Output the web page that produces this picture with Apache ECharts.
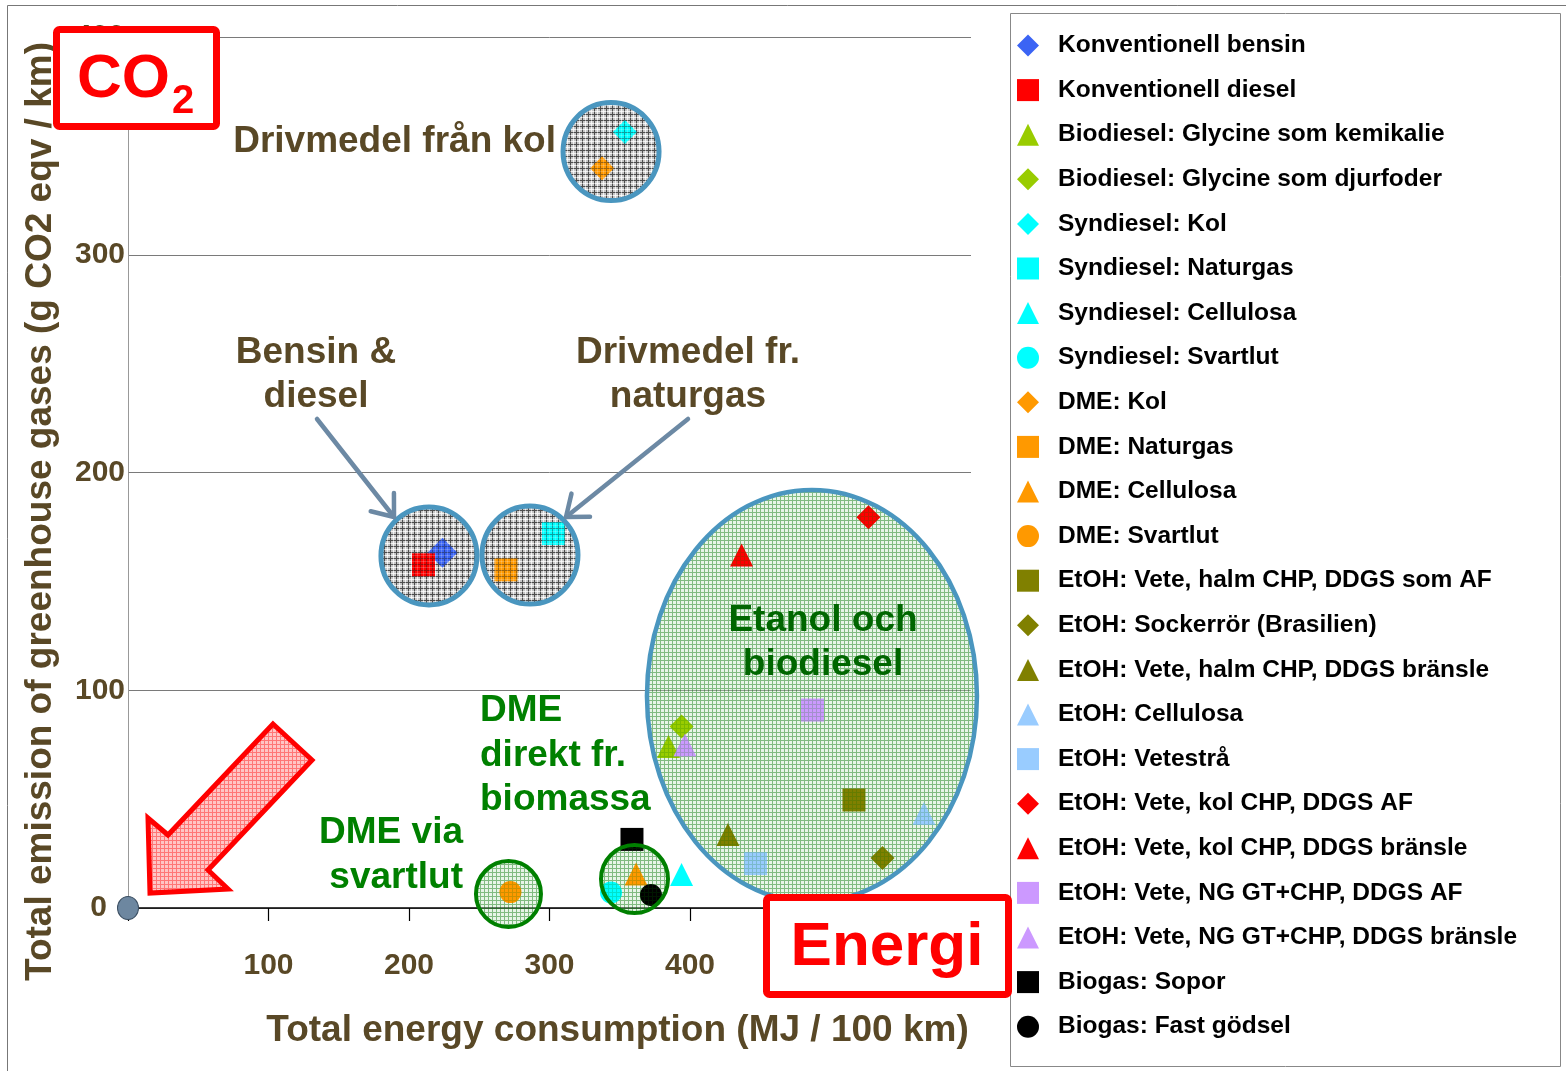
<!DOCTYPE html>
<html><head><meta charset="utf-8">
<script src="https://cdn.jsdelivr.net/npm/echarts@6/dist/echarts.min.js"></script>
<style>html,body{margin:0;padding:0;background:#fff}#c{width:1566px;height:1071px}</style>
</head><body><div id="c"></div>
<script>
// ---------- DATA ----------
const seriesNames = [
  'Konventionell bensin','Konventionell diesel','Biodiesel: Glycine som kemikalie','Biodiesel: Glycine som djurfoder',
  'Syndiesel: Kol','Syndiesel: Naturgas','Syndiesel: Cellulosa','Syndiesel: Svartlut',
  'DME: Kol','DME: Naturgas','DME: Cellulosa','DME: Svartlut',
  'EtOH: Vete, halm CHP, DDGS som AF','EtOH: Sockerrör (Brasilien)','EtOH: Vete, halm CHP, DDGS bränsle',
  'EtOH: Cellulosa','EtOH: Vetestrå','EtOH: Vete, kol CHP, DDGS AF','EtOH: Vete, kol CHP, DDGS bränsle',
  'EtOH: Vete, NG GT+CHP, DDGS AF','EtOH: Vete, NG GT+CHP, DDGS bränsle','Biogas: Sopor','Biogas: Fast gödsel'
];
const energyMJ = [223.8, 210.3, 384.7, 394.0, 353.7, 302.8, 394.0, 343.8, 337.4, 269.0, 361.6, 272.2,
                  516.7, 537.0, 427.0, 566.5, 446.6, 527.0, 436.7, 487.2, 396.4, 358.7, 372.2];
const emissionCO2 = [163.1, 157.6, 74.2, 83.4, 356.4, 172.0, 15.4, 7.1, 339.7, 155.3, 15.6, 7.3,
                     49.6, 23.0, 33.8, 43.4, 20.4, 179.4, 162.1, 90.9, 74.9, 31.5, 6.0];
const xTickValues = [0, 100, 200, 300, 400, 500, 600];
const yTickValues = [0, 100, 200, 300, 400];

// ---------- STYLE ----------
const symbols = ['diamond','rect','triangle','diamond','diamond','rect','triangle','circle','diamond','rect','triangle','circle',
                 'rect','diamond','triangle','triangle','rect','diamond','triangle','rect','triangle','rect','circle'];
const colors = ['#3B64F4','#FF0000','#99CC00','#99CC00','#00FFFF','#00FFFF','#00FFFF','#00FFFF','#FF9900','#FF9900','#FF9900','#FF9900',
                '#808000','#808000','#808000','#99CCFF','#99CCFF','#FF0000','#FF0000','#CC99FF','#CC99FF','#000000','#000000'];
const sizeOf = {diamond: 24, rect: 23, triangle: 23, circle: 22};
const brown = '#594826';
const FF = '"Liberation Sans", Arial, sans-serif';

const chart = echarts.init(document.getElementById('c'), null, {renderer: 'canvas'});

const series = seriesNames.map((n, i) => ({
  type: 'scatter', name: n,
  data: [[energyMJ[i], emissionCO2[i]]],
  symbol: symbols[i],
  symbolSize: i === 0 ? 30 : sizeOf[symbols[i]],
  itemStyle: {color: colors[i], opacity: 1},
  emphasis: {disabled: true},
  z: 3
}));
series.push({
  type: 'scatter', name: 'origin', data: [[0, 0]], symbol: 'circle', symbolSize: [21, 23],
  itemStyle: {color: '#6D87A0', borderColor: '#3A4D60', borderWidth: 1, opacity: 1},
  emphasis: {disabled: true}, z: 4, silent: true
});

chart.setOption({
  animation: false,
  backgroundColor: '#fff',
  grid: {left: 128, top: 37, right: 595, bottom: 163, containLabel: false},
  xAxis: {
    type: 'value', min: xTickValues[0], max: xTickValues[xTickValues.length - 1],
    interval: xTickValues[1] - xTickValues[0],
    name: 'Total energy consumption (MJ / 100 km)', nameLocation: 'middle', nameGap: 104,
    nameTextStyle: {fontFamily: FF, fontWeight: 'bold', fontSize: 37, color: brown, padding: [0, 0, 0, 136]},
    axisLine: {show: true, lineStyle: {color: '#000', width: 1.5}},
    axisTick: {show: true, length: 13, inside: false, lineStyle: {color: '#000', width: 1.2}},
    axisLabel: {fontFamily: FF, fontWeight: 'bold', fontSize: 30, color: brown, margin: 43,
      formatter: v => v === 0 ? '' : String(v)},
    splitLine: {show: false}
  },
  yAxis: {
    type: 'value', min: yTickValues[0], max: yTickValues[yTickValues.length - 1],
    interval: yTickValues[1] - yTickValues[0],
    name: 'Total emission of greenhouse gases (g CO2 eqv / km)', nameLocation: 'middle', nameGap: 69,
    nameTextStyle: {fontFamily: FF, fontWeight: 'bold', fontSize: 37, color: brown, padding: [0, 78, 0, 0]},
    axisLine: {show: true, lineStyle: {color: '#999', width: 1}},
    axisTick: {show: false},
    axisLabel: {fontFamily: FF, fontWeight: 'bold', fontSize: 30, color: brown, margin: 3,
      formatter: v => v === 0 ? '{z|0}' : String(v),
      rich: {z: {fontFamily: FF, fontWeight: 'bold', fontSize: 30, color: brown, padding: [0, 18, 0, 0]}}},
    splitLine: {show: true, lineStyle: {color: '#7a7a7a', width: 1}}
  },
  legend: {
    orient: 'vertical', left: 1017, top: 33, padding: 0, itemGap: 19.6, itemWidth: 22, itemHeight: 22,
    selectedMode: false,
    textStyle: {fontFamily: FF, fontWeight: 'bold', fontSize: 24.5, color: '#000', lineHeight: 24, padding: [0, 0, 0, 14]},
    data: seriesNames.map((n, i) => ({name: n, icon: symbols[i]}))
  },
  series: series
});

// ---------- ANNOTATIONS ----------
function pattern(size, bg, dark, light) {
  const c = document.createElement('canvas'); c.width = size; c.height = size;
  const g = c.getContext('2d');
  if (bg) { g.fillStyle = bg; g.fillRect(0, 0, size, size); }
  g.fillStyle = dark; g.fillRect(0, 0, size, 1); g.fillRect(0, 1, 1, size - 1);
  if (light) { const h = Math.floor(size / 2); g.fillStyle = light; g.fillRect(0, h, size, 1); g.fillRect(h, 0, 1, size); }
  return {image: c, repeat: 'repeat'};
}
const greyBase = pattern(6, 'rgba(160,160,160,0.6)', 'rgba(30,30,30,0.5)', 'rgba(255,255,255,0.75)');
const greyMesh = pattern(6, null, 'rgba(20,20,20,0.4)', 'rgba(255,255,255,0.2)');
const greenBase = pattern(4, 'rgba(190,225,190,0.35)', 'rgba(0,120,0,0.3)', null);
const greenMesh = pattern(4, null, 'rgba(0,110,0,0.2)', null);
const redPat = pattern(4, 'rgba(255,150,150,0.55)', 'rgba(255,0,0,0.4)', null);

const cp = (x, y) => chart.convertToPixel({gridIndex: 0}, [x, y]);
const ringBlue = '#4A96BF';
const clusters = [
  {c: [214.2, 161.7], rx: 48, ry: 49, base: greyBase, mesh: greyMesh, stroke: ringBlue, lw: 5},
  {c: [286.1, 162.1], rx: 48, ry: 49, base: greyBase, mesh: greyMesh, stroke: ringBlue, lw: 5},
  {c: [343.8, 347.4], rx: 48, ry: 49, base: greyBase, mesh: greyMesh, stroke: ringBlue, lw: 5},
  {c: [486.8, 97.4], rx: 165, ry: 206, base: greenBase, mesh: greenMesh, stroke: ringBlue, lw: 4.5},
  {c: [270.8, 6.4], rx: 32.5, ry: 33, base: greenBase, mesh: greenMesh, stroke: '#008000', lw: 4},
  {c: [360.5, 13.3], rx: 33.5, ry: 34, base: greenBase, mesh: greenMesh, stroke: '#008000', lw: 4}
];
const g = [];
g.push({type: 'rect', z: 50, silent: true, shape: {x: 7.5, y: 5.5, width: 1600, height: 1100},
  style: {fill: 'none', stroke: '#777', lineWidth: 1}});
g.push({type: 'rect', z: 50, silent: true, shape: {x: 1010.5, y: 13.5, width: 550, height: 1053},
  style: {fill: 'none', stroke: '#888', lineWidth: 1}});
clusters.forEach(k => {
  const p = cp(k.c[0], k.c[1]);
  g.push({type: 'ellipse', z: 1, silent: true, shape: {cx: p[0], cy: p[1], rx: k.rx, ry: k.ry},
    style: {fill: k.base, stroke: 'none'}});
  g.push({type: 'ellipse', z: 60, silent: true, shape: {cx: p[0], cy: p[1], rx: k.rx, ry: k.ry},
    style: {fill: k.mesh, stroke: k.stroke, lineWidth: k.lw}});
});
function arrow(x1, y1, x2, y2) {
  const dx = x2 - x1, dy = y2 - y1, L = Math.hypot(dx, dy), ux = dx / L, uy = dy / L;
  const a = 38 * Math.PI / 180, h = 24;
  const w1 = [x2 - h * (ux * Math.cos(a) - uy * Math.sin(a)), y2 - h * (uy * Math.cos(a) + ux * Math.sin(a))];
  const w2 = [x2 - h * (ux * Math.cos(a) + uy * Math.sin(a)), y2 - h * (uy * Math.cos(a) - ux * Math.sin(a))];
  g.push({type: 'line', z: 70, silent: true, shape: {x1, y1, x2, y2}, style: {stroke: '#6C89A4', lineWidth: 4.5, lineCap: 'round'}});
  g.push({type: 'polyline', z: 70, silent: true, shape: {points: [w1, [x2, y2], w2]},
    style: {stroke: '#6C89A4', lineWidth: 4.5, lineCap: 'round', lineJoin: 'round', fill: 'none'}});
}
arrow(317, 419, 394, 517);
arrow(688, 419, 566, 517);
// big red arrow
g.push({type: 'polygon', z: 70, silent: true,
  shape: {points: [[273, 724], [312, 760], [208, 870], [228, 889], [150, 893], [148, 818], [168, 835]]},
  style: {fill: redPat, stroke: '#FF0000', lineWidth: 5, lineJoin: 'miter'}});
// CO2 box
g.push({type: 'rect', z: 80, silent: true, shape: {x: 56.5, y: 29.5, width: 160, height: 97, r: 3},
  style: {fill: '#fff', stroke: '#FF0000', lineWidth: 7}});
g.push({type: 'text', z: 81, silent: true, style: {text: 'CO', x: 77, y: 80, fill: '#FF0000',
  font: 'bold 62px ' + FF, align: 'left', verticalAlign: 'middle'}});
g.push({type: 'text', z: 81, silent: true, style: {text: '2', x: 172, y: 102, fill: '#FF0000',
  font: 'bold 40px ' + FF, align: 'left', verticalAlign: 'middle'}});
// Energi box
g.push({type: 'rect', z: 80, silent: true, shape: {x: 766.5, y: 897.5, width: 242, height: 97, r: 3},
  style: {fill: '#fff', stroke: '#FF0000', lineWidth: 7}});
g.push({type: 'text', z: 81, silent: true, style: {text: 'Energi', x: 887, y: 948, fill: '#FF0000',
  font: 'bold 62px ' + FF, align: 'center', verticalAlign: 'middle'}});
// labels
function label(text, x, y, align, color, size) {
  g.push({type: 'text', z: 75, silent: true, style: {text, x, y, fill: color, font: 'bold ' + size + 'px ' + FF,
    align, verticalAlign: 'middle', lineHeight: 44.5}});
}
label('Drivmedel från kol', 556, 142, 'right', brown, 37);
label('Bensin &\ndiesel', 316, 375, 'center', brown, 37);
label('Drivmedel fr.\nnaturgas', 688, 375, 'center', brown, 37);
label('Etanol och\nbiodiesel', 823, 643, 'center', '#006600', 37);
label('DME\ndirekt fr.\nbiomassa', 480, 755.5, 'left', '#008000', 37);
label('DME via\nsvartlut', 463, 855.5, 'right', '#008000', 37);

chart.setOption({graphic: {elements: g}});
</script></body></html>
